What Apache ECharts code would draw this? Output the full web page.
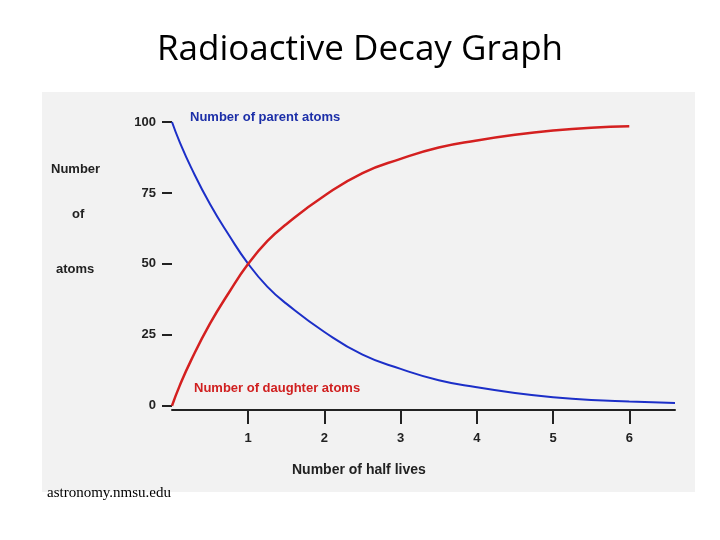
<!DOCTYPE html>
<html><head><meta charset="utf-8">
<script src="https://cdn.jsdelivr.net/npm/echarts@6/dist/echarts.min.js"></script>
<style>html,body{margin:0;padding:0;background:#fff}#c{width:720px;height:540px}</style>
</head><body><div id="c"></div>
<script>
const halfLives = [0,0.1,0.25,0.5,0.75,1,1.25,1.5,2,2.5,3,3.5,4,4.5,5,5.5,6,6.6];
const parentAtoms = [100,93,84,71,60,50,42,36,26,18,13,9,6.5,4.5,3,2,1.5,1];
const daughterTimes = [0,0.1,0.25,0.5,0.75,1,1.25,1.5,2,2.5,3,3.5,4,4.5,5,5.5,6];
const daughterAtoms = [0,7,16,29,40,50,58,64,74,82,87,91,93.5,95.5,97,98,98.5];
const xTicks = [1,2,3,4,5,6];
const yTicks = [0,25,50,75,100];
const chart = echarts.init(document.getElementById('c'));
const f = 'Liberation Sans, Arial, sans-serif';
chart.setOption({
  animation:false,
  title:{text:'Radioactive Decay Graph',left:'center',top:28,textStyle:{fontFamily:'Open Sans, sans-serif',fontWeight:'normal',fontSize:35,color:'#000'}},
  graphic:[
    {type:'rect',z:-10,shape:{x:42,y:92,width:653,height:400},style:{fill:'#f2f2f2'}},
    {type:'text',left:47,top:486,style:{text:'astronomy.nmsu.edu',font:'15px "Liberation Serif", serif',fill:'#000'}},
    {type:'text',left:190,top:111,style:{text:'Number of parent atoms',font:'bold 13px '+f,fill:'#1c2fa8'}},
    {type:'text',left:194,top:382,style:{text:'Number of daughter atoms',font:'bold 13px '+f,fill:'#d02020'}},
    {type:'text',left:51,top:163,style:{text:'Number',font:'bold 13px '+f,fill:'#222'}},
    {type:'text',left:72,top:208,style:{text:'of',font:'bold 13px '+f,fill:'#222'}},
    {type:'text',left:56,top:263,style:{text:'atoms',font:'bold 13px '+f,fill:'#222'}},
    {type:'text',left:292,top:463,style:{text:'Number of half lives',font:'bold 14px '+f,fill:'#222'}}
  ],
  grid:{left:172,right:45,top:122,bottom:130},
  xAxis:{type:'value',min:0,max:6.6,splitLine:{show:false},
    axisLine:{show:true,onZero:false,lineStyle:{color:'#222',width:2}},
    axisTick:{show:true,customValues:xTicks,length:14,lineStyle:{color:'#222',width:2}},
    axisLabel:{customValues:xTicks,margin:22,fontFamily:f,fontWeight:'bold',fontSize:13,color:'#222'}},
  yAxis:{type:'value',min:-1.5,max:100,splitLine:{show:false},
    axisLine:{show:false},
    axisTick:{show:true,customValues:yTicks,length:10,lineStyle:{color:'#222',width:2}},
    axisLabel:{customValues:yTicks,margin:16,fontFamily:f,fontWeight:'bold',fontSize:13,color:'#222'}},
  series:[
    {type:'line',smooth:true,symbol:'none',data:halfLives.map((t,i)=>[t,parentAtoms[i]]),lineStyle:{color:'#1c2fc8',width:2}},
    {type:'line',smooth:true,symbol:'none',data:daughterTimes.map((t,i)=>[t,daughterAtoms[i]]),lineStyle:{color:'#d42020',width:2.5}}
  ]
});
</script></body></html>
